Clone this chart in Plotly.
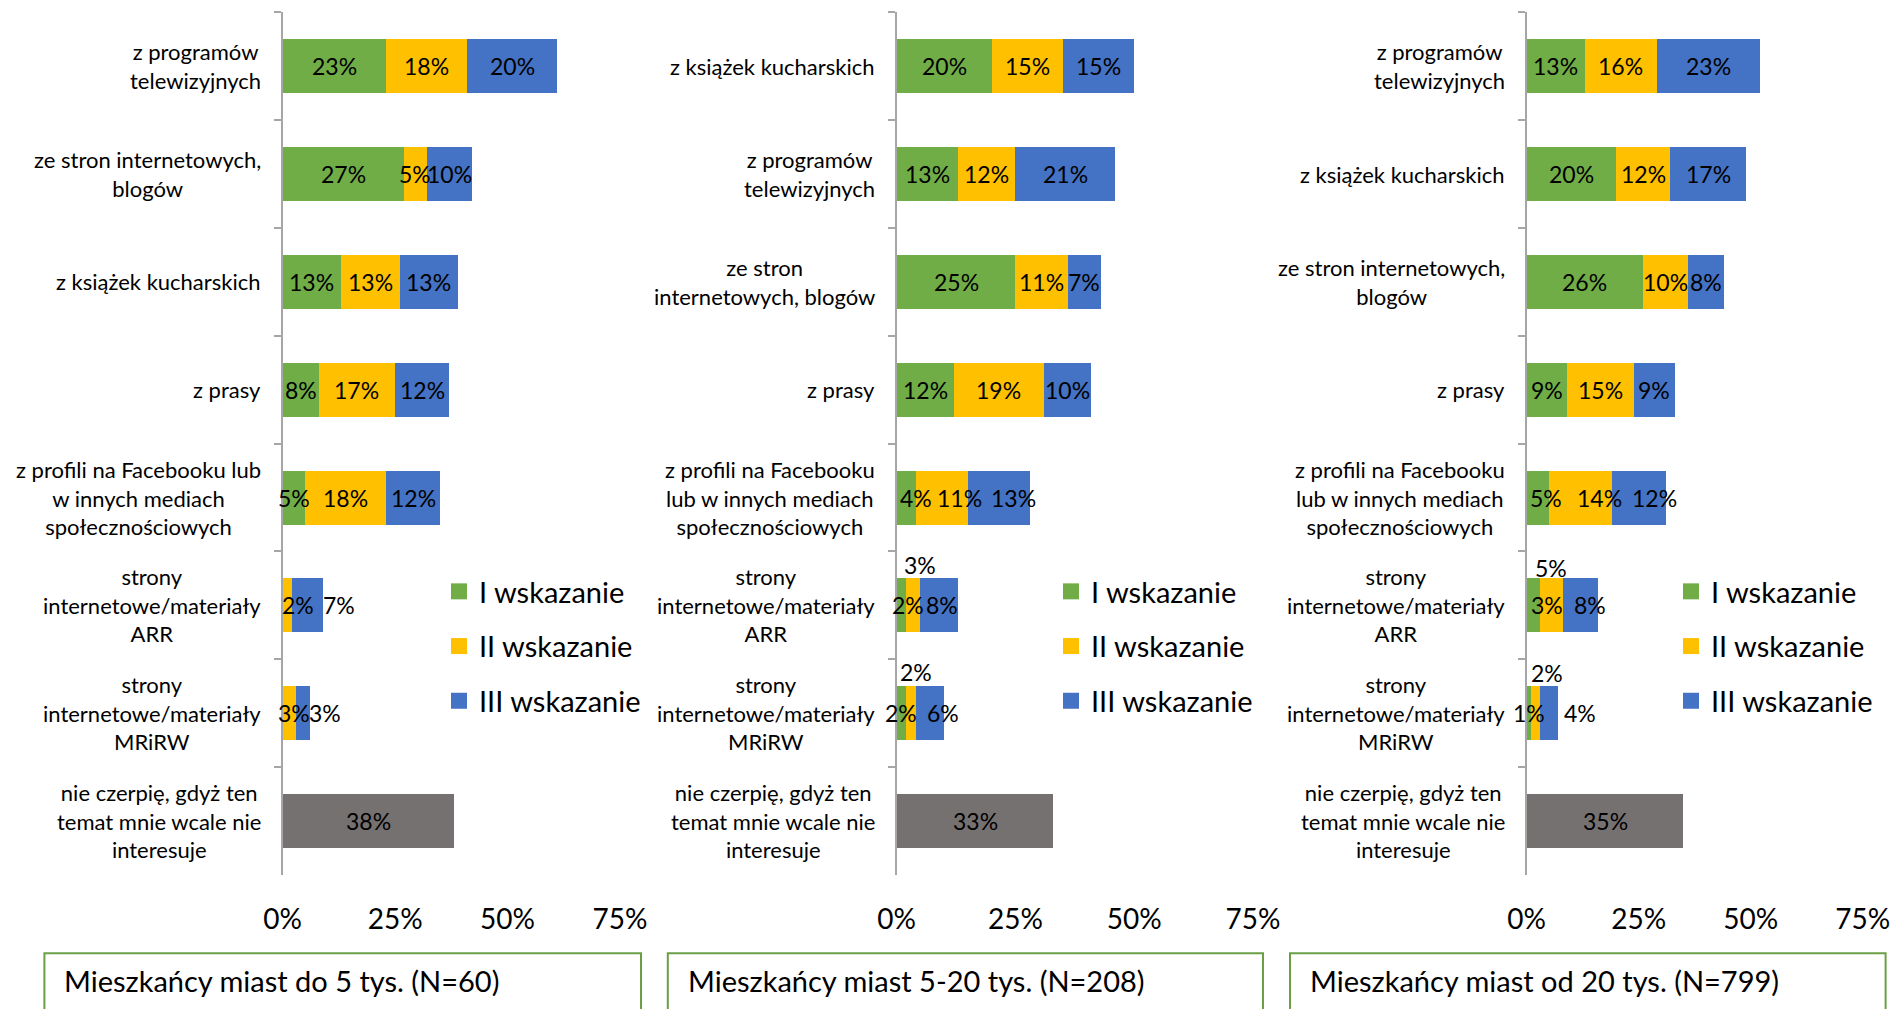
import plotly.graph_objects as go

# ---- data ----
series_names = ['I wskazanie', 'II wskazanie', 'III wskazanie']
series_colors = ['#70AD47', '#FFC000', '#4472C4']
none_color = '#767171'

cats_1 = ['z programów<br>telewizyjnych', 'ze stron internetowych,<br>blogów', 'z książek kucharskich',
          'z prasy', 'z profili na Facebooku lub<br>w innych mediach<br>społecznościowych',
          'strony<br>internetowe/materiały<br>ARR', 'strony<br>internetowe/materiały<br>MRiRW',
          'nie czerpię, gdyż ten<br>temat mnie wcale nie<br>interesuje']
first_1 = [23, 27, 13, 8, 5, 0, 0]
second_1 = [18, 5, 13, 17, 18, 2, 3]
third_1 = [20, 10, 13, 12, 12, 7, 3]
none_1 = 38

cats_2 = ['z książek kucharskich', 'z programów<br>telewizyjnych', 'ze stron<br>internetowych, blogów',
          'z prasy', 'z profili na Facebooku<br>lub w innych mediach<br>społecznościowych',
          'strony<br>internetowe/materiały<br>ARR', 'strony<br>internetowe/materiały<br>MRiRW',
          'nie czerpię, gdyż ten<br>temat mnie wcale nie<br>interesuje']
first_2 = [20, 13, 25, 12, 4, 2, 2]
second_2 = [15, 12, 11, 19, 11, 3, 2]
third_2 = [15, 21, 7, 10, 13, 8, 6]
none_2 = 33

cats_3 = ['z programów<br>telewizyjnych', 'z książek kucharskich', 'ze stron internetowych,<br>blogów',
          'z prasy', 'z profili na Facebooku<br>lub w innych mediach<br>społecznościowych',
          'strony<br>internetowe/materiały<br>ARR', 'strony<br>internetowe/materiały<br>MRiRW',
          'nie czerpię, gdyż ten<br>temat mnie wcale nie<br>interesuje']
first_3 = [13, 20, 26, 9, 5, 3, 1]
second_3 = [16, 12, 10, 15, 14, 5, 2]
third_3 = [23, 17, 8, 9, 12, 8, 4]
none_3 = 35

titles = ['Mieszkańcy miast do 5 tys. (N=60)', 'Mieszkańcy miast 5-20 tys. (N=208)',
          'Mieszkańcy miast od 20 tys. (N=799)']
x_ticks = [0, 25, 50, 75]

# ---- styling ----
FONT = 'Lato, Open Sans, sans-serif'
W, H = 1899, 1009
x_domains = [(282.7, 620), (896.7, 1253), (1526.7, 1862.7)]
y_domain = [1 - 875 / H, 1 - 12.3 / H]
legend_x = [439, 1051, 1671]
box_x = [(44.4, 641), (667.8, 1263), (1290, 1885.6)]
# manual label nudges (px) as in the original: (panel, row, series) -> (dx, dy)
label_shift = {
    (0, 5, 1): (11, 0), (0, 5, 2): (32, 0), (0, 6, 1): (5, 0), (0, 6, 2): (22, 0),
    (1, 4, 0): (10, 0), (1, 4, 1): (18, 0), (1, 4, 2): (15, 0),
    (1, 5, 0): (7, 0), (1, 5, 1): (7, 40), (1, 5, 2): (3, 0),
    (1, 6, 1): (5, 41), (1, 6, 2): (13, 0),
    (2, 4, 0): (8, 0), (2, 4, 1): (19, 0), (2, 4, 2): (16, 0),
    (2, 5, 0): (14, 0), (2, 5, 1): (0, 37), (2, 5, 2): (10, 0),
    (2, 6, 1): (11, 40), (2, 6, 2): (31, 0),
}

panels = [
    (cats_1, [first_1, second_1, third_1], none_1),
    (cats_2, [first_2, second_2, third_2], none_2),
    (cats_3, [first_3, second_3, third_3], none_3),
]

fig = go.Figure()
annotations = []
shapes = []
layout = {}

for p, (cats, vals, none_val) in enumerate(panels):
    sfx = '' if p == 0 else str(p + 1)
    xa, ya = 'x' + sfx, 'y' + sfx
    leg = 'legend' + sfx
    cum = [0] * 7
    for s in range(3):
        fig.add_trace(go.Bar(
            y=cats[:7], x=vals[s], orientation='h', xaxis=xa, yaxis=ya,
            marker=dict(color=series_colors[s], line=dict(width=0)),
            showlegend=False, hoverinfo='x+y'))
        # legend entry with a bigger square marker
        fig.add_trace(go.Scatter(
            x=[None], y=[None], mode='markers', xaxis=xa, yaxis=ya,
            marker=dict(symbol='square', size=16, color=series_colors[s]),
            name=series_names[s], legend=leg, legendgroup=f'{p}-{s}'))
        for i, v in enumerate(vals[s]):
            if v > 0:
                dx, dy = label_shift.get((p, i, s), (0, 0))
                annotations.append(dict(
                    x=cum[i] + v / 2, y=cats[i], xref=xa, yref=ya, text=f'{v}%',
                    showarrow=False, xshift=dx, yshift=dy,
                    font=dict(size=23, color='black', family=FONT)))
            cum[i] += v
    fig.add_trace(go.Bar(
        y=[cats[7]], x=[none_val], orientation='h', xaxis=xa, yaxis=ya,
        marker=dict(color=none_color, line=dict(width=0)), showlegend=False))
    annotations.append(dict(
        x=none_val / 2, y=cats[7], xref=xa, yref=ya, text=f'{none_val}%', showarrow=False,
        font=dict(size=23, color='black', family=FONT)))

    # category labels (centred lines, right aligned block)
    for c in cats:
        annotations.append(dict(
            x=0, y=c, xref=xa + ' domain', yref=ya, text=c, showarrow=False,
            xanchor='right', align='center', xshift=-20,
            font=dict(size=22, color='black', family=FONT)))

    d0, d1 = x_domains[p]
    layout['xaxis' + sfx] = dict(
        domain=[d0 / W, d1 / W], range=[0, 75], tickvals=x_ticks,
        ticktext=[f'{t}%' for t in x_ticks], showgrid=False, zeroline=False,
        showline=False, ticks='', ticklabelstandoff=25, anchor=ya, automargin=False,
        tickfont=dict(size=28, color='black', family=FONT), fixedrange=True)
    layout['yaxis' + sfx] = dict(
        domain=y_domain, type='category', categoryorder='array', categoryarray=cats,
        autorange='reversed', showticklabels=False, showgrid=False, zeroline=False,
        showline=True, linecolor='#A6A6A6', linewidth=1.5, ticks='outside',
        tickson='boundaries', ticklen=7, tickcolor='#A6A6A6', tickwidth=1.5,
        anchor=xa, automargin=False, fixedrange=True)
    layout[leg] = dict(
        x=legend_x[p] / W, y=1 - 566 / H, xanchor='left', yanchor='top',
        font=dict(size=29, color='black', family=FONT), bgcolor='rgba(0,0,0,0)',
        traceorder='grouped', tracegroupgap=14, itemclick=False)

    b0, b1 = box_x[p]
    shapes.append(dict(type='rect', xref='paper', yref='paper',
                       x0=b0 / W, x1=b1 / W, y0=1 - 953.3 / H, y1=-0.1,
                       line=dict(color='#6B9F45', width=2), fillcolor='white', layer='below'))
    annotations.append(dict(
        x=(b0 + 18) / W, y=1 - 980 / H, xref='paper', yref='paper', text=titles[p],
        showarrow=False, xanchor='left', yanchor='middle',
        font=dict(size=29, color='black', family=FONT)))

fig.update_layout(
    width=W, height=H, barmode='stack', bargap=0.5,
    margin=dict(l=0, r=0, t=0, b=0, autoexpand=False),
    plot_bgcolor='white', paper_bgcolor='white',
    font=dict(family=FONT, color='black'),
    annotations=annotations, shapes=shapes, **layout)

# page without body margin / scrollbars so the figure sits at (0, 0)
fig.write_html('out.html', config={'displayModeBar': False},
               post_script="document.body.style.margin='0';"
                           "document.body.style.overflow='hidden';")
